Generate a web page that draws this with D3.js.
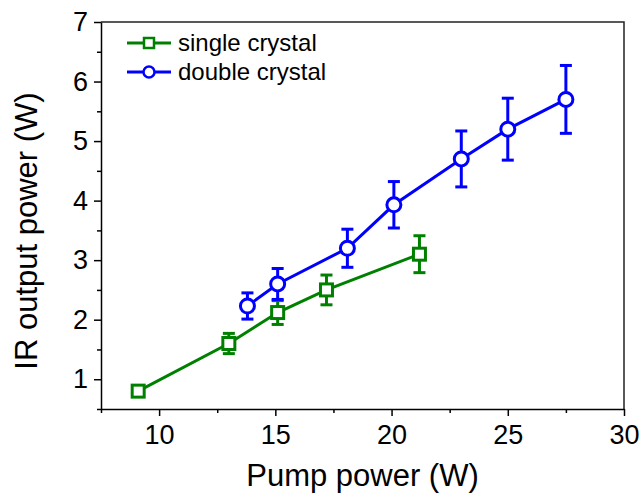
<!DOCTYPE html>
<html>
<head>
<meta charset="utf-8">
<script src="https://cdn.jsdelivr.net/npm/d3@7"></script>
<style>
  body { margin: 0; background: #fff; }
  text { font-family: "Liberation Sans", Arial, sans-serif; }
</style>
</head>
<body>
<div id="chart"></div>
<script>
// single crystal
const singlePump = [9.1, 13.0, 15.1, 17.2, 21.2];
const singleOut = [0.8, 1.6, 2.12, 2.5, 3.1];
const singleErr = [0.05, 0.17, 0.2, 0.25, 0.31];

// double crystal
const doublePump = [13.8, 15.1, 18.1, 20.1, 23.0, 25.0, 27.5];
const doubleOut = [2.23, 2.6, 3.2, 3.93, 4.7, 5.2, 5.7];
const doubleErr = [0.22, 0.26, 0.32, 0.39, 0.47, 0.52, 0.57];

const xTicks = [10, 15, 20, 25, 30];
const yTicks = [1, 2, 3, 4, 5, 6, 7];

const width = 642, height = 497;
const margin = { top: 22, right: 18, bottom: 88, left: 101 };
const w = width - margin.left - margin.right;
const h = height - margin.top - margin.bottom;

const svg = d3.select('#chart').append('svg')
  .attr('width', width)
  .attr('height', height);

const g = svg.append('g')
  .attr('transform', `translate(${margin.left},${margin.top})`);

const x = d3.scaleLinear().domain([7.5, 30]).range([0, w]);
const y = d3.scaleLinear().domain([0.5, 7]).range([h, 0]);

// frame top + right
g.append('path')
  .attr('d', `M0,0H${w}V${h}`)
  .attr('fill', 'none')
  .attr('stroke', '#222')
  .attr('stroke-width', 1.5);

// minor ticks
const xMinor = d3.range(7.5, 30.01, 2.5).filter(v => v % 5 !== 0);
const yMinor = d3.range(0.5, 7.01, 1).filter(v => v % 1 !== 0);

g.append('g')
  .attr('transform', `translate(0,${h})`)
  .call(d3.axisBottom(x).tickValues(xMinor).tickSize(4).tickFormat(''))
  .call(a => a.select('.domain').remove())
  .selectAll('line').attr('stroke-width', 1.5);

g.append('g')
  .call(d3.axisLeft(y).tickValues(yMinor).tickSize(4).tickFormat(''))
  .call(a => a.select('.domain').remove())
  .selectAll('line').attr('stroke-width', 1.5);

// major axes
const xAxis = g.append('g')
  .attr('transform', `translate(0,${h})`)
  .call(d3.axisBottom(x).tickValues(xTicks).tickSize(7).tickSizeOuter(0).tickPadding(9).tickFormat(d3.format('d')));
xAxis.select('.domain').attr('stroke-width', 1.5);
xAxis.selectAll('line').attr('stroke-width', 1.5);
xAxis.selectAll('text').style('font-size', '27px').attr('fill', '#000');

const yAxis = g.append('g')
  .call(d3.axisLeft(y).tickValues(yTicks).tickSize(7).tickSizeOuter(0).tickPadding(6).tickFormat(d3.format('d')));
yAxis.select('.domain').attr('stroke-width', 1.5);
yAxis.selectAll('line').attr('stroke-width', 1.5);
yAxis.selectAll('text').style('font-size', '27px').attr('fill', '#000');

// axis titles
g.append('text')
  .attr('x', w / 2)
  .attr('y', h + 77)
  .attr('text-anchor', 'middle')
  .style('font-size', '31px')
  .text('Pump power (W)');

g.append('text')
  .attr('transform', 'rotate(-90)')
  .attr('x', -209)
  .attr('y', -64)
  .attr('text-anchor', 'middle')
  .style('font-size', '31px')
  .text('IR output power (W)');

function drawSeries(xs, ys, es, color, shape) {
  const pts = xs.map((v, i) => ({ x: v, y: ys[i], e: es[i] }));
  const s = g.append('g');

  s.append('path')
    .datum(pts)
    .attr('fill', 'none')
    .attr('stroke', color)
    .attr('stroke-width', 3)
    .attr('d', d3.line().x(d => x(d.x)).y(d => y(d.y)));

  // error bars
  const eb = s.selectAll('.err').data(pts).enter().append('g');
  eb.append('line')
    .attr('x1', d => x(d.x)).attr('x2', d => x(d.x))
    .attr('y1', d => y(d.y + d.e)).attr('y2', d => y(d.y - d.e))
    .attr('stroke', color).attr('stroke-width', 3);
  [1, -1].forEach(sign => {
    eb.append('line')
      .attr('x1', d => x(d.x) - 6).attr('x2', d => x(d.x) + 6)
      .attr('y1', d => y(d.y + sign * d.e)).attr('y2', d => y(d.y + sign * d.e))
      .attr('stroke', color).attr('stroke-width', 3);
  });

  if (shape === 'square') {
    s.selectAll('.m').data(pts).enter().append('rect')
      .attr('x', d => x(d.x) - 6).attr('y', d => y(d.y) - 6)
      .attr('width', 12).attr('height', 12)
      .attr('fill', '#fff').attr('stroke', color).attr('stroke-width', 3);
  } else {
    s.selectAll('.m').data(pts).enter().append('circle')
      .attr('cx', d => x(d.x)).attr('cy', d => y(d.y)).attr('r', 7)
      .attr('fill', '#fff').attr('stroke', color).attr('stroke-width', 3);
  }
}

drawSeries(singlePump, singleOut, singleErr, '#008000', 'square');
drawSeries(doublePump, doubleOut, doubleErr, '#0000ff', 'circle');

// legend
const legend = [
  { label: 'single crystal', color: '#008000', shape: 'square' },
  { label: 'double crystal', color: '#0000ff', shape: 'circle' }
];
const lg = g.append('g').attr('transform', 'translate(26,21)');
legend.forEach((d, i) => {
  const row = lg.append('g').attr('transform', `translate(0,${i * 29})`);
  row.append('line').attr('x1', 0).attr('x2', 44)
    .attr('stroke', d.color).attr('stroke-width', 3);
  if (d.shape === 'square') {
    row.append('rect').attr('x', 17).attr('y', -5).attr('width', 10).attr('height', 10)
      .attr('fill', '#fff').attr('stroke', d.color).attr('stroke-width', 2.5);
  } else {
    row.append('circle').attr('cx', 22).attr('r', 5.5)
      .attr('fill', '#fff').attr('stroke', d.color).attr('stroke-width', 2.5);
  }
  row.append('text').attr('x', 51).attr('y', 8)
    .style('font-size', '24px').text(d.label);
});
</script>
</body>
</html>
